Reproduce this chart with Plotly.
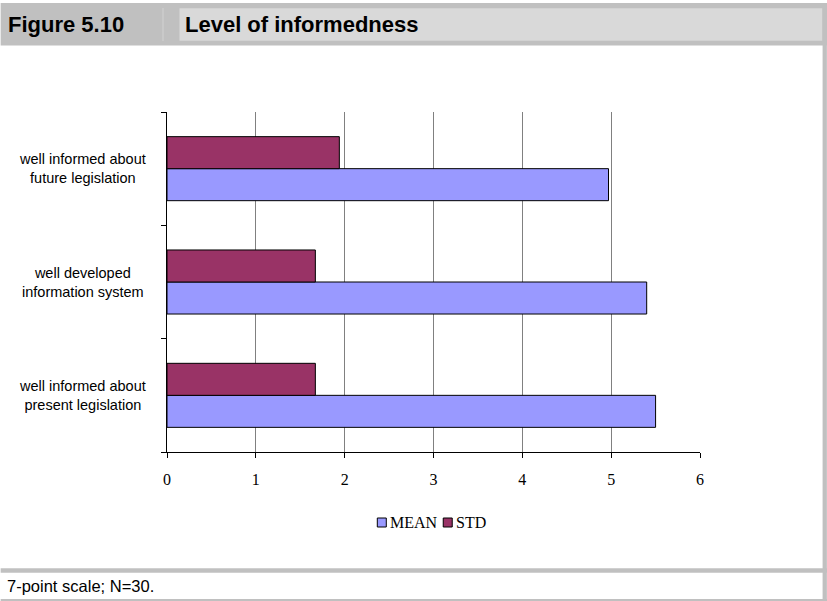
import plotly.graph_objects as go

# Survey items (bottom to top) and their statistics on a 7-point scale
categories = [
    "well informed about<br>present legislation",
    "well developed<br>information system",
    "well informed about<br>future legislation",
]
series_names = ["MEAN", "STD"]
series_colors = ["#9999ff", "#993366"]
mean_values = [5.50, 5.40, 4.97]
std_values = [1.67, 1.67, 1.94]
x_ticks = [0, 1, 2, 3, 4, 5, 6]

W, H = 827, 601
L, R, T, B = 166.5, 700.0, 112.0, 452.0


def px_x(px):
    return (px - L) / (R - L)


def px_y(py):
    return (B - py) / (B - T)


ypos = list(range(len(categories)))

fig = go.Figure()
for name, color, values in zip(series_names, series_colors, [mean_values, std_values]):
    fig.add_trace(go.Bar(
        name=name, y=ypos, x=values, orientation="h", showlegend=False,
        marker=dict(color=color, line=dict(color="#000000", width=1)),
    ))

shapes = []
# header band
shapes.append(dict(type="rect", xref="paper", yref="paper", layer="below",
                   x0=px_x(0), x1=px_x(W), y0=px_y(3), y1=px_y(45.5),
                   fillcolor="#c0c0c0", line=dict(width=0)))
shapes.append(dict(type="rect", xref="paper", yref="paper", layer="below",
                   x0=px_x(179), x1=px_x(822.5), y0=px_y(8.3), y1=px_y(40.7),
                   fillcolor="#d9d9d9", line=dict(width=0)))
shapes.append(dict(type="line", xref="paper", yref="paper", layer="below",
                   x0=px_x(162.5), x1=px_x(162.5), y0=px_y(8), y1=px_y(41),
                   line=dict(color="#d2d2d2", width=1)))
# right border
shapes.append(dict(type="rect", xref="paper", yref="paper", layer="below",
                   x0=px_x(822.7), x1=px_x(W), y0=px_y(3), y1=px_y(H),
                   fillcolor="#c0c0c0", line=dict(width=0)))
# footer separators
shapes.append(dict(type="rect", xref="paper", yref="paper", layer="below",
                   x0=px_x(0), x1=px_x(W), y0=px_y(568.3), y1=px_y(572.7),
                   fillcolor="#c0c0c0", line=dict(width=0)))
shapes.append(dict(type="rect", xref="paper", yref="paper", layer="below",
                   x0=px_x(0), x1=px_x(W), y0=px_y(599), y1=px_y(H),
                   fillcolor="#c0c0c0", line=dict(width=0)))

head_font = "Liberation Sans Narrow, Arial Narrow, Liberation Sans, Arial"
serif = "Liberation Serif, Times New Roman, serif"
annotations = [
    dict(text="<b>Figure 5.10</b>", xref="paper", yref="paper",
         x=px_x(5), y=px_y(24.5), xanchor="left", yanchor="middle",
         showarrow=False, font=dict(family=head_font, size=22, color="#000")),
    dict(text="<b>Level of informedness</b>", xref="paper", yref="paper",
         x=px_x(183), y=px_y(24.5), xanchor="left", yanchor="middle",
         showarrow=False, font=dict(family=head_font, size=22, color="#000")),
    dict(text="7-point scale; N=30.", xref="paper", yref="paper",
         x=px_x(4), y=px_y(586), xanchor="left", yanchor="middle",
         showarrow=False, font=dict(family=head_font, size=16.5, color="#000")),
]
for i, label in enumerate(categories):
    annotations.append(dict(
        text=label, xref="paper", yref="y", x=px_x(82), y=i,
        xanchor="center", yanchor="middle", align="center", showarrow=False,
        font=dict(family="Liberation Sans, Arial", size=14.5, color="#000"),
    ))

# legend: small outlined swatches followed by the series names
legend_layout = [(377, 388), (443, 454)]
for (sx, tx), name, color in zip(legend_layout, series_names, series_colors):
    shapes.append(dict(type="rect", xref="paper", yref="paper",
                       x0=px_x(sx), x1=px_x(sx + 9), y0=px_y(518), y1=px_y(527),
                       fillcolor=color, line=dict(color="#000", width=1)))
    annotations.append(dict(text=name, xref="paper", yref="paper",
                            x=px_x(tx), y=px_y(522.5), xanchor="left", yanchor="middle",
                            showarrow=False, font=dict(family=serif, size=16, color="#000")))

fig.update_layout(
    width=W, height=H,
    margin=dict(l=L, r=W - R, t=T, b=H - B, pad=0),
    paper_bgcolor="#ffffff", plot_bgcolor="#ffffff",
    barmode="group", bargap=0.435, bargroupgap=0,
    shapes=shapes, annotations=annotations,
    xaxis=dict(range=[0, 6], tickvals=x_ticks, ticktext=[str(v) for v in x_ticks],
               showgrid=True, gridcolor="#808080", gridwidth=1,
               zeroline=False, showline=True, linecolor="#000", linewidth=1,
               ticks="outside", ticklen=5, tickcolor="#000", ticklabelstandoff=8,
               tickfont=dict(family=serif, size=16, color="#000")),
    yaxis=dict(range=[-0.5, 2.5], tickvals=[-0.5, 0.5, 1.5, 2.5],
               showticklabels=False, showgrid=False, zeroline=False,
               showline=True, linecolor="#000", linewidth=1,
               ticks="outside", ticklen=5, tickcolor="#000"),
)

fig.write_html("out.html")
